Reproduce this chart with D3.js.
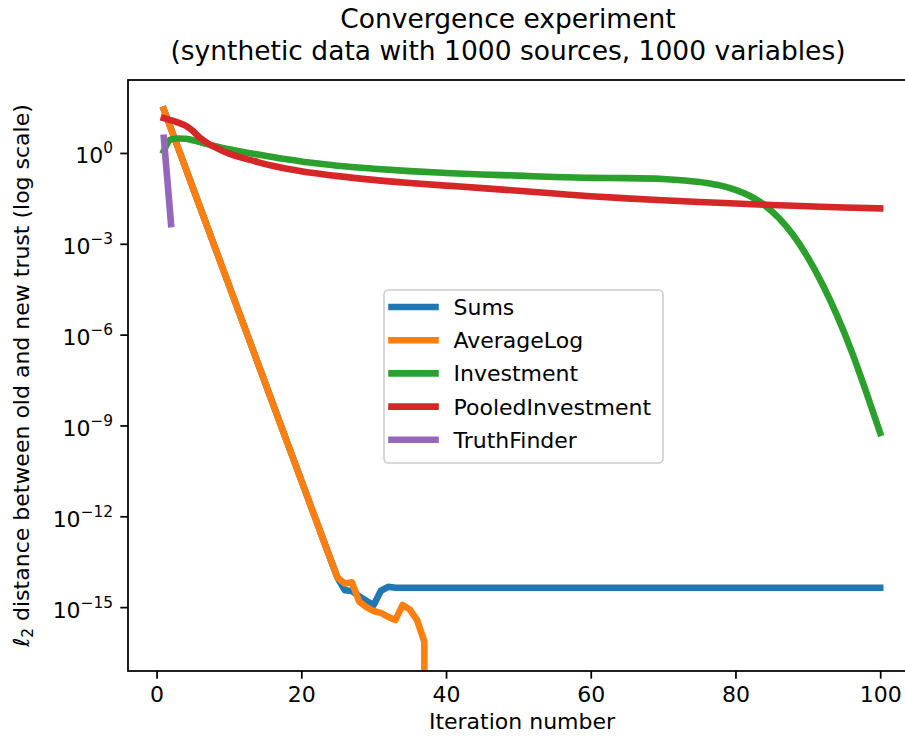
<!DOCTYPE html>
<html>
<head>
<meta charset="utf-8">
<script src="https://cdn.jsdelivr.net/npm/d3@7"></script>
<style>
  html, body { margin: 0; padding: 0; background: #fff; }
  svg { display: block; }
  text { font-family: "DejaVu Sans", sans-serif; fill: #000; }
</style>
</head>
<body>
<svg id="chart" width="905" height="739"></svg>
<script>
// ---------------- data ----------------
const titleLines = ["Convergence experiment", "(synthetic data with 1000 sources, 1000 variables)"];
const xLabel = "Iteration number";
const xTicks = [0, 20, 40, 60, 80, 100];
const yTickExponents = [0, -3, -6, -9, -12, -15];
const seriesNames = ["Sums", "AverageLog", "Investment", "PooledInvestment", "TruthFinder"];
const seriesColors = ["#1f77b4", "#ff7f0e", "#2ca02c", "#d62728", "#9467bd"];

// shared straight descent of Sums and AverageLog (iterations 1..25)
const descentIter = [1,2,3,4,5,6,7,8,9,10,11,12,13,14,15,16,17,18,19,20,21,22,23,24,25];
const descentValues = [27.5, 6.24, 1.41, 0.320, 0.0724, 0.0164, 3.72e-3, 8.41e-4, 1.91e-4, 4.32e-5,
  9.77e-6, 2.21e-6, 5.01e-7, 1.135e-7, 2.57e-8, 5.82e-9, 1.32e-9, 2.99e-10, 6.76e-11, 1.53e-11,
  3.47e-12, 7.85e-13, 1.78e-13, 4.03e-14, 9.5e-15];

const sumsTailIter = [26, 27, 28, 29, 30, 31, 32, 33, 100];
const sumsTailValues = [3.63e-15, 3.39e-15, 2.29e-15, 1.62e-15, 1.17e-15, 3.47e-15, 4.68e-15, 4.37e-15, 4.37e-15];

const avgLogTailIter = [26, 27, 28, 29, 30, 31, 32, 33, 34, 35, 36, 37, 38, 100];
const avgLogTailValues = [6.0e-15, 6.6e-15, 1.51e-15, 1.0e-15, 7.41e-16, 6.46e-16, 4.79e-16, 3.72e-16,
  1.17e-15, 8.32e-16, 3.72e-16, 7.24e-17, 0, 0];

const investmentIter = [1,2,3,4,5,6,7,8,10,12,14,16,18,20,22,25,30,35,40,45,50,55,60,65,70,73,76,78,80,82,84,86,88,90,92,94,96,98,100];
const investmentValues = [1.17, 2.82, 3.02, 2.95, 2.63, 2.29, 1.95, 1.70, 1.32, 1.07, 0.891, 0.741, 0.617,
  0.525, 0.457, 0.380, 0.302, 0.251, 0.219, 0.195, 0.178, 0.160, 0.150, 0.148, 0.138, 0.123, 0.102,
  0.0832, 0.0603, 0.0380, 0.0191, 7.08e-3, 1.91e-3, 3.55e-4, 4.68e-5, 4.47e-6, 3.02e-7, 1.41e-8, 5.62e-10];

const pooledIter = [1,2,3,4,5,6,7,8,9,10,12,14,16,18,20,22,26,30,35,40,45,50,55,60,65,70,75,80,85,90,95,100];
const pooledValues = [14.1, 12.0, 10.0, 7.94, 5.37, 3.16, 2.14, 1.58, 1.20, 0.955, 0.676, 0.501, 0.380,
  0.302, 0.251, 0.214, 0.162, 0.129, 0.102, 0.0832, 0.0692, 0.0562, 0.0457, 0.0372, 0.0316, 0.0275,
  0.0240, 0.0214, 0.0191, 0.0174, 0.0158, 0.0148];

const truthIter = [1, 2];
const truthValues = [3.16, 4.47e-3];

// ---------------- layout ----------------
const svg = d3.select("#chart");
const ax = { left: 128, right: 916, top: 80, bottom: 671 };
const LW = 6.6;

const x = d3.scaleLinear().domain([-3.95, 104.95]).range([ax.left, ax.right]);
const y = d3.scaleLog().domain([Math.pow(10, 2.41), Math.pow(10, -17.11)]).range([ax.top, ax.bottom]);
const yv = v => y(Math.max(v, 1e-300));

const zip = (a, b) => a.map((d, i) => [d, b[i]]);
const seriesData = [
  { pts: zip(descentIter.concat(sumsTailIter), descentValues.concat(sumsTailValues)), curve: d3.curveLinear },
  { pts: zip(descentIter.concat(avgLogTailIter), descentValues.concat(avgLogTailValues)), curve: d3.curveLinear },
  { pts: zip(investmentIter, investmentValues), curve: d3.curveMonotoneX },
  { pts: zip(pooledIter, pooledValues), curve: d3.curveMonotoneX },
  { pts: zip(truthIter, truthValues), curve: d3.curveLinear }
];

svg.append("defs").append("clipPath").attr("id", "clip")
  .append("rect").attr("x", ax.left).attr("y", ax.top)
  .attr("width", ax.right - ax.left).attr("height", ax.bottom - ax.top);

const plot = svg.append("g").attr("clip-path", "url(#clip)");
seriesData.forEach((s, i) => {
  const line = d3.line().x(d => x(d[0])).y(d => yv(d[1])).curve(s.curve);
  plot.append("path").attr("d", line(s.pts))
    .attr("fill", "none").attr("stroke", seriesColors[i])
    .attr("stroke-width", LW).attr("stroke-linecap", "square").attr("stroke-linejoin", "round");
});

// ---------------- axes ----------------
const tickLen = 7.7, spineW = 1.76;
const xAxisG = svg.append("g").attr("transform", `translate(0,${ax.bottom})`)
  .call(d3.axisBottom(x).tickValues(xTicks).tickSize(tickLen).tickPadding(7.7).tickFormat(d3.format("d")));
xAxisG.select(".domain").remove();
xAxisG.selectAll(".tick line").attr("stroke", "#000").attr("stroke-width", spineW);
xAxisG.selectAll(".tick text").attr("font-size", 22).attr("font-family", "DejaVu Sans").attr("fill", "#000");

const yTickVals = yTickExponents.map(e => Math.pow(10, e));
const yAxisG = svg.append("g").attr("transform", `translate(${ax.left},0)`)
  .call(d3.axisLeft(y).tickValues(yTickVals).tickSize(tickLen).tickFormat(""));
yAxisG.select(".domain").remove();
yAxisG.selectAll(".tick line").attr("stroke", "#000").attr("stroke-width", spineW);
yAxisG.selectAll(".tick").each(function(d, i) {
  const t = d3.select(this).append("text")
    .attr("x", -tickLen - 7.2).attr("y", 10).attr("text-anchor", "end")
    .attr("font-size", 22).attr("fill", "#000");
  t.append("tspan").text("10");
  const e = yTickExponents[i];
  t.append("tspan").attr("dy", -10).attr("font-size", 15.4)
    .text(e < 0 ? "\u2212" + Math.abs(e) : String(e));
});

// spines
const spines = svg.append("g").attr("stroke", "#000").attr("stroke-width", spineW).attr("fill", "none");
spines.append("rect").attr("x", ax.left).attr("y", ax.top)
  .attr("width", ax.right - ax.left).attr("height", ax.bottom - ax.top);

// ---------------- text ----------------
svg.append("text").attr("x", 508).attr("y", 28).attr("text-anchor", "middle").attr("font-size", 26.5).text(titleLines[0]);
svg.append("text").attr("x", 508).attr("y", 60).attr("text-anchor", "middle").attr("font-size", 26.5).text(titleLines[1]);

svg.append("text").attr("x", (ax.left + ax.right) / 2).attr("y", 729)
  .attr("text-anchor", "middle").attr("font-size", 22).text(xLabel);

const yl = svg.append("text").attr("transform", `translate(29,${(ax.top + ax.bottom) / 2}) rotate(-90)`)
  .attr("text-anchor", "middle").attr("font-size", 22);
yl.append("tspan").attr("font-style", "italic").text("\u2113");
yl.append("tspan").attr("dy", 4).attr("font-size", 15.4).text("2");
yl.append("tspan").attr("dy", -4).text(" distance between old and new trust (log scale)");

// ---------------- legend ----------------
const lg = svg.append("g").attr("transform", "translate(384,290)");
lg.append("rect").attr("width", 279).attr("height", 173).attr("rx", 4.4)
  .attr("fill", "#fff").attr("fill-opacity", 0.8).attr("stroke", "#cccccc").attr("stroke-width", 1.6);
seriesNames.forEach((name, i) => {
  const cy = 17 + i * 33.2;
  lg.append("line").attr("x1", 7.5).attr("x2", 51.5).attr("y1", cy).attr("y2", cy)
    .attr("stroke", seriesColors[i]).attr("stroke-width", LW).attr("stroke-linecap", "square");
  lg.append("text").attr("x", 69.5).attr("y", cy + 8).attr("font-size", 22).text(name);
});
</script>
</body>
</html>
